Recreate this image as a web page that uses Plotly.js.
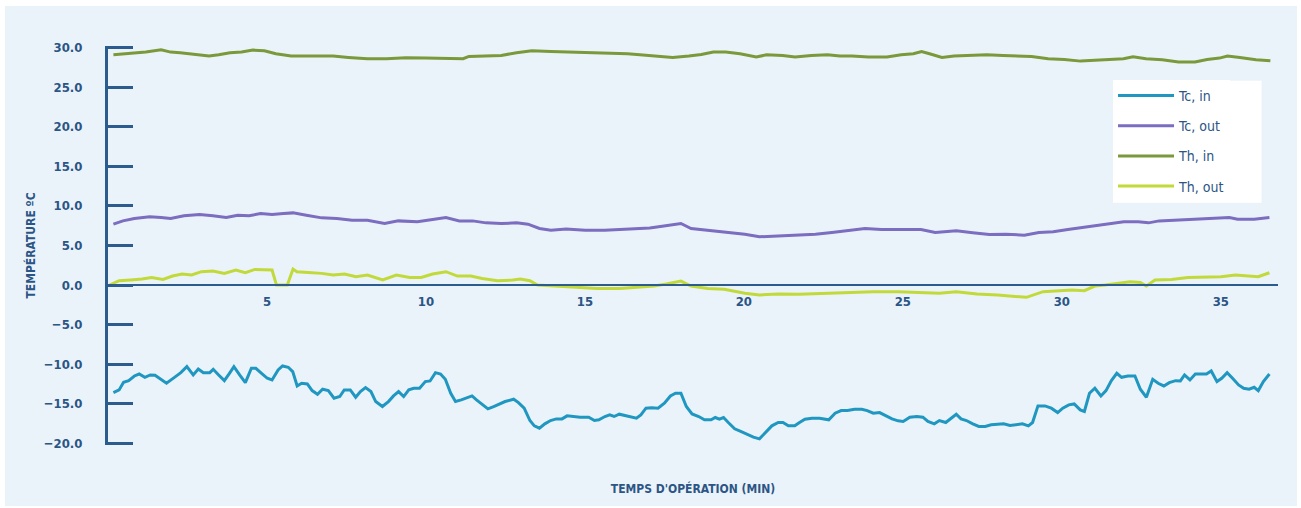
<!DOCTYPE html>
<html>
<head>
<meta charset="utf-8">
<script src="https://cdn.plot.ly/plotly-3.0.1.min.js"></script>
<style>
  html, body { margin: 0; padding: 0; background: #ffffff; width: 1301px; height: 508px; overflow: hidden; }
  #chart { position: absolute; left: 5px; top: 6px; width: 1292px; height: 500px; }
</style>
</head>
<body>
<div id="chart"></div>
<script>
// Temps d'opération (min) / température (ºC)
const tcInX = [0.17,0.35,0.49,0.65,0.83,0.98,1.16,1.33,1.48,1.66,1.84,2.08,2.29,2.48,2.68,2.84,3.0,3.2,3.31,3.48,3.66,3.82,3.96,4.14,4.32,4.51,4.65,4.83,5.01,5.16,5.35,5.49,5.67,5.81,5.95,6.09,6.27,6.42,6.59,6.75,6.93,7.11,7.29,7.43,7.62,7.79,7.94,8.1,8.27,8.42,8.63,8.82,8.98,9.14,9.3,9.46,9.62,9.8,9.98,10.13,10.3,10.46,10.61,10.78,10.93,11.11,11.29,11.45,11.59,11.77,11.95,12.13,12.31,12.49,12.76,12.91,13.09,13.27,13.41,13.57,13.74,13.92,14.1,14.28,14.44,14.64,14.85,15.12,15.3,15.44,15.63,15.78,15.92,16.08,16.26,16.44,16.62,16.76,16.92,17.1,17.3,17.5,17.69,17.85,18.02,18.19,18.37,18.58,18.76,18.97,19.1,19.23,19.36,19.51,19.71,19.9,20.1,20.3,20.49,20.69,20.88,21.08,21.23,21.4,21.6,21.75,21.92,22.14,22.38,22.67,22.87,23.06,23.26,23.48,23.71,23.88,24.07,24.27,24.46,24.66,24.85,25.01,25.22,25.44,25.63,25.79,25.99,26.15,26.35,26.52,26.68,26.83,27.0,27.2,27.39,27.59,27.78,27.98,28.17,28.37,28.56,28.76,28.95,29.08,29.25,29.47,29.67,29.87,30.03,30.22,30.39,30.58,30.71,30.87,31.04,31.23,31.39,31.56,31.73,31.88,32.08,32.3,32.47,32.66,32.86,33.03,33.21,33.38,33.58,33.73,33.86,34.03,34.2,34.38,34.55,34.7,34.88,35.03,35.2,35.37,35.56,35.72,35.89,36.05,36.18,36.34,36.53];
const tcInY = [-13.58,-13.24,-12.28,-12.07,-11.48,-11.23,-11.65,-11.35,-11.39,-11.9,-12.4,-11.69,-11.06,-10.3,-11.35,-10.59,-11.06,-11.06,-10.64,-11.35,-12.07,-11.14,-10.3,-11.35,-12.32,-10.51,-10.51,-11.14,-11.77,-11.98,-10.72,-10.22,-10.38,-10.93,-12.74,-12.4,-12.49,-13.33,-13.79,-13.16,-13.33,-14.29,-14.08,-13.24,-13.24,-14.17,-13.45,-12.95,-13.45,-14.71,-15.34,-14.71,-14.0,-13.45,-14.08,-13.24,-13.03,-13.03,-12.19,-12.11,-11.06,-11.23,-11.9,-13.66,-14.71,-14.5,-14.21,-14.0,-14.5,-15.05,-15.64,-15.34,-15.05,-14.71,-14.42,-14.84,-15.55,-17.11,-17.78,-18.07,-17.53,-17.11,-16.9,-16.9,-16.52,-16.6,-16.69,-16.69,-17.11,-17.02,-16.6,-16.39,-16.6,-16.31,-16.48,-16.6,-16.81,-16.39,-15.55,-15.5,-15.55,-14.92,-14.0,-13.66,-13.66,-15.34,-16.27,-16.6,-17.02,-17.02,-16.73,-16.94,-16.73,-17.36,-18.16,-18.49,-18.83,-19.21,-19.42,-18.62,-17.78,-17.36,-17.36,-17.78,-17.78,-17.36,-16.94,-16.81,-16.81,-17.02,-16.18,-15.85,-15.85,-15.68,-15.68,-15.85,-16.18,-16.1,-16.48,-16.9,-17.15,-17.23,-16.69,-16.6,-16.69,-17.23,-17.53,-17.11,-17.36,-16.81,-16.31,-16.9,-17.11,-17.53,-17.86,-17.86,-17.65,-17.57,-17.53,-17.74,-17.65,-17.53,-17.78,-17.36,-15.26,-15.26,-15.55,-16.1,-15.55,-15.13,-15.01,-15.76,-15.97,-13.66,-13.03,-14.0,-13.33,-12.07,-11.14,-11.65,-11.48,-11.48,-13.16,-14.17,-11.9,-12.4,-12.74,-12.32,-12.07,-12.11,-11.35,-11.98,-11.23,-11.23,-11.23,-10.85,-12.19,-11.77,-11.06,-11.77,-12.61,-13.03,-13.16,-12.91,-13.33,-12.19,-11.23];

const tcOutX = [0.17,0.47,0.83,1.31,1.67,1.97,2.39,2.88,3.3,3.72,4.08,4.44,4.8,5.16,5.52,5.82,6.24,6.72,7.2,7.68,8.16,8.7,9.13,9.73,10.21,10.63,11.05,11.47,11.89,12.37,12.85,13.21,13.57,13.93,14.41,15.01,15.62,16.1,16.58,17.04,17.43,17.69,18.02,18.34,18.86,19.51,20.03,20.49,20.95,21.6,22.25,22.77,23.29,23.81,24.33,24.85,25.57,26.02,26.68,27.2,27.72,28.24,28.82,29.28,29.73,30.19,30.65,31.04,31.49,31.95,32.4,32.73,33.06,33.51,33.97,34.36,34.81,35.27,35.53,36.05,36.53];
const tcOutY = [7.69,8.11,8.41,8.62,8.54,8.41,8.75,8.91,8.75,8.54,8.83,8.75,9.04,8.91,9.04,9.12,8.83,8.49,8.41,8.2,8.2,7.78,8.11,7.99,8.28,8.54,8.11,8.11,7.86,7.78,7.86,7.69,7.15,6.94,7.07,6.94,6.94,7.02,7.15,7.2,7.44,7.57,7.78,7.15,6.94,6.73,6.43,6.1,6.18,6.31,6.43,6.64,6.94,7.15,7.02,7.02,7.02,6.64,6.85,6.6,6.39,6.43,6.31,6.64,6.73,7.02,7.27,7.57,7.78,7.99,7.99,7.86,8.11,8.2,8.32,8.41,8.54,8.54,8.32,8.32,8.54];

const thInX = [0.17,0.71,1.19,1.67,1.97,2.27,2.63,2.9,3.18,3.48,3.84,4.2,4.56,4.92,5.28,5.76,6.48,7.08,7.56,8.16,8.76,9.37,9.97,10.57,11.17,11.35,11.77,12.37,12.85,13.33,13.93,14.53,15.13,15.74,16.34,16.73,17.24,17.76,18.27,18.66,19.04,19.43,19.88,20.39,20.71,21.22,21.61,22.12,22.63,23.02,23.4,23.92,24.5,24.95,25.33,25.59,25.84,26.23,26.61,27.13,27.64,28.15,28.67,29.05,29.57,30.08,30.59,31.11,31.62,31.94,32.24,32.65,33.16,33.67,34.19,34.57,34.96,35.21,35.6,36.11,36.56];
const thInY = [29.09,29.22,29.43,29.72,29.43,29.35,29.22,29.09,28.93,29.09,29.35,29.43,29.68,29.6,29.22,28.93,28.93,28.93,28.76,28.59,28.59,28.71,28.67,28.67,28.59,28.88,28.93,29.01,29.35,29.6,29.51,29.43,29.43,29.35,29.22,29.09,28.93,28.76,28.93,29.13,29.43,29.43,29.22,28.8,29.09,29.01,28.8,29.01,29.09,28.93,28.93,28.8,28.8,29.09,29.22,29.51,29.22,28.76,28.93,29.01,29.09,29.01,28.93,28.88,28.59,28.5,28.29,28.38,28.5,28.59,28.84,28.59,28.46,28.17,28.17,28.5,28.67,28.93,28.76,28.46,28.34];

const thOutX = [0.05,0.35,0.71,1.07,1.37,1.73,2.03,2.33,2.63,2.94,3.3,3.66,4.02,4.32,4.62,4.92,5.16,5.3,5.64,5.82,5.94,6.3,6.72,7.08,7.44,7.8,8.16,8.64,9.07,9.49,9.85,10.21,10.63,10.99,11.41,11.77,12.25,12.73,12.97,13.27,13.51,14.05,14.65,15.38,16.1,16.7,17.18,17.56,18.02,18.34,18.86,19.38,20.03,20.49,21.08,21.73,22.51,23.29,24.07,24.85,25.5,26.15,26.68,27.33,27.98,28.5,28.89,29.41,29.93,30.32,30.71,31.04,31.36,31.69,32.15,32.47,32.66,32.93,33.45,33.97,34.49,35.01,35.46,35.79,36.18,36.53];
const thOutY = [0.01,0.55,0.64,0.76,0.97,0.72,1.14,1.39,1.27,1.69,1.77,1.48,1.9,1.56,1.98,1.9,1.9,0.0,0.0,2.02,1.69,1.6,1.48,1.27,1.39,1.06,1.27,0.64,1.27,0.97,0.97,1.39,1.69,1.14,1.14,0.84,0.55,0.64,0.76,0.55,0.01,-0.12,-0.29,-0.42,-0.42,-0.2,-0.12,0.13,0.51,-0.12,-0.42,-0.54,-1.04,-1.25,-1.13,-1.17,-1.04,-0.92,-0.83,-0.83,-0.92,-1.04,-0.83,-1.13,-1.25,-1.38,-1.55,-0.83,-0.71,-0.62,-0.71,-0.12,0.01,0.22,0.42,0.34,-0.12,0.64,0.72,0.97,1.06,1.06,1.27,1.14,1.06,1.56];

const seriesNames = ["Tc, in", "Tc, out", "Th, in", "Th, out"];
const seriesColors = ["#1f97c0", "#7b6dbf", "#7a993a", "#c2d93a"];
const yTickVals = [-20, -15, -10, -5, 0, 5, 10, 15, 20, 25, 30];
const xTickVals = [5, 10, 15, 20, 25, 30, 35];

const axisColor = "#2b5c8d";
const textColor = "#2b5585";
const fontFam = "'DejaVu Sans Condensed', 'Liberation Sans Narrow', 'DejaVu Sans', sans-serif";

const xs = [tcInX, tcOutX, thInX, thOutX];
const ys = [tcInY, tcOutY, thInY, thOutY];
const traces = seriesNames.map((n, i) => ({
  type: "scatter", mode: "lines", name: n, x: xs[i], y: ys[i],
  line: { color: seriesColors[i], width: 3, shape: "linear" },
  legendgroup: "g" + i
}));

const yMin = -20, yMax = 30, yPad = 0.2;
const layout = {
  width: 1292, height: 500,
  paper_bgcolor: "#ebf3fa", plot_bgcolor: "#ebf3fa",
  margin: { l: 103, r: 19, t: 40, b: 61 },
  showlegend: true,
  legend: {
    x: 0.859, y: 0.915, xanchor: "left", yanchor: "top",
    bgcolor: "#ffffff", borderwidth: 0,
    font: { family: fontFam, size: 14, color: textColor },
    tracegroupgap: 9, traceorder: "grouped",
    itemwidth: 56
  },
  // white panel behind the legend (legend box is wider than its text in the reference)
  shapes: [{
    type: "rect", xref: "paper", yref: "paper", layer: "above",
    x0: 0.859, x1: 0.986, y0: 0.607, y1: 0.913,
    fillcolor: "#ffffff", line: { width: 0 }
  }],
  xaxis: {
    range: [0, 36.8], anchor: "free", position: (0 - (yMin - yPad)) / (yMax - yMin + 2 * yPad),
    showline: true, linecolor: axisColor, linewidth: 2,
    showgrid: false, zeroline: false,
    tickmode: "array", tickvals: xTickVals, ticks: "",
    ticklabelstandoff: 4,
    tickfont: { family: fontFam, size: 13, color: textColor, weight: "bold" },
    title: { text: "TEMPS D'OPÉRATION (MIN)", standoff: 176,
             font: { family: fontFam, size: 12, color: textColor, weight: "bold" } }
  },
  yaxis: {
    range: [yMin - yPad, yMax + yPad],
    showline: true, linecolor: axisColor, linewidth: 3,
    showgrid: false, zeroline: false,
    tickmode: "array", tickvals: yTickVals, tickformat: ".1f",
    ticks: "inside", ticklen: 25, tickwidth: 3, tickcolor: axisColor,
    ticklabelstandoff: 20,
    tickfont: { family: fontFam, size: 13, color: textColor, weight: "bold" },
    title: { text: "TEMPÉRATURE ºC", standoff: 6,
             font: { family: fontFam, size: 12, color: textColor, weight: "bold" } }
  }
};

Plotly.newPlot("chart", traces, layout, { displayModeBar: false, staticPlot: true });
</script>
</body>
</html>
